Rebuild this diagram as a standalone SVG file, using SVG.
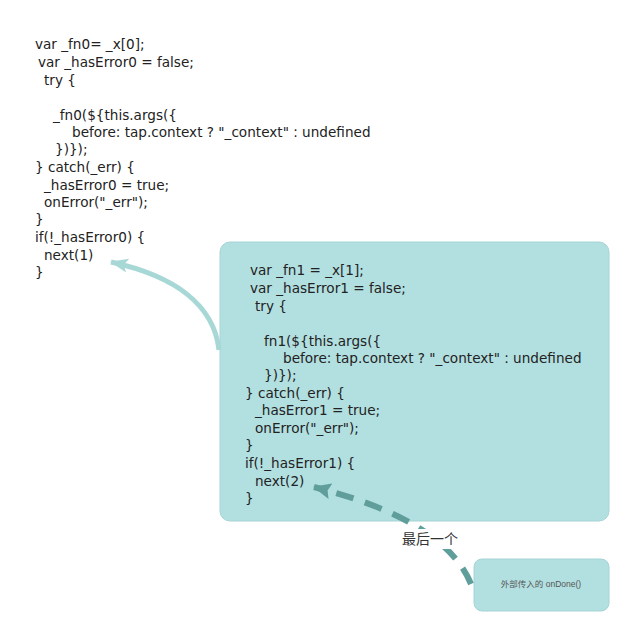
<svg xmlns="http://www.w3.org/2000/svg" width="640" height="642" viewBox="0 0 640 642">
<defs>
<style>
.code{font-family:"DejaVu Sans","Liberation Sans",sans-serif;font-size:13.6px;fill:#222;}
.box{fill:#b2dfe0;stroke:#a6d4d5;stroke-width:1;}
.lbl{font-family:"Liberation Sans","Noto Sans CJK SC",sans-serif;font-size:14px;fill:#333;}
.small{font-family:"Liberation Sans","Noto Sans CJK SC",sans-serif;font-size:8.5px;fill:#555;}
</style>
<marker id="headLight" markerUnits="userSpaceOnUse" markerWidth="20" markerHeight="16" refX="17" refY="8" orient="auto" viewBox="0 0 20 16">
<path d="M18,8 L0,1 L4,8 L0,15 Z" fill="#a8d8d6"/>
</marker>
<marker id="headDark" markerUnits="userSpaceOnUse" markerWidth="20" markerHeight="16" refX="17" refY="8" orient="auto" viewBox="0 0 20 16">
<path d="M18,8 L0,0 L3,8 L0,16 Z" fill="#5f9e9b"/>
</marker>
</defs>
<rect width="640" height="642" fill="#ffffff"/>

<g id="code0">
<text class="code" x="35" y="49">var _fn0= _x[0];</text>
<text class="code" x="38" y="67">var _hasError0 = false;</text>
<text class="code" x="44" y="85">try {</text>
<text class="code" x="53" y="120">_fn0(${this.args({</text>
<text class="code" x="72" y="137">before: tap.context ? "_context" : undefined</text>
<text class="code" x="55" y="154">})});</text>
<text class="code" x="35" y="172">} catch(_err) {</text>
<text class="code" x="44" y="190">_hasError0 = true;</text>
<text class="code" x="44" y="207">onError("_err");</text>
<text class="code" x="35" y="224">}</text>
<text class="code" x="35" y="242">if(!_hasError0) {</text>
<text class="code" x="44" y="260">next(1)</text>
<text class="code" x="35" y="277">}</text>
</g>

<g id="code1">
<rect class="box" x="220" y="242" width="389" height="279" rx="10"/>
<text class="code" x="250" y="275">var _fn1 = _x[1];</text>
<text class="code" x="250" y="293">var _hasError1 = false;</text>
<text class="code" x="255" y="311">try {</text>
<text class="code" x="264" y="346">fn1(${this.args({</text>
<text class="code" x="283" y="363">before: tap.context ? "_context" : undefined</text>
<text class="code" x="264" y="380">})});</text>
<text class="code" x="245" y="398">} catch(_err) {</text>
<text class="code" x="255" y="415">_hasError1 = true;</text>
<text class="code" x="255" y="433">onError("_err");</text>
<text class="code" x="245" y="450">}</text>
<text class="code" x="245" y="468">if(!_hasError1) {</text>
<text class="code" x="255" y="486">next(2)</text>
<text class="code" x="245" y="503">}</text>
</g>

<g id="onDone">
<rect class="box" x="474" y="559" width="135" height="52" rx="8"/>
<text class="small" x="541" y="587" text-anchor="middle">外部传入的 onDone()</text>
</g>

<g id="connectors">
<path d="M219,350 C214,305 175,276 111,262" fill="none" stroke="#a8d8d6" stroke-width="5" marker-end="url(#headLight)"/>
<path d="M471,584 Q445,520 314,487" fill="none" stroke="#5f9e9b" stroke-width="6" stroke-dasharray="18,12" marker-end="url(#headDark)"/>
<rect x="399" y="529" width="62" height="20" fill="#ffffff"/>
<text class="lbl" x="430" y="544" text-anchor="middle">最后一个</text>
</g>
</svg>
